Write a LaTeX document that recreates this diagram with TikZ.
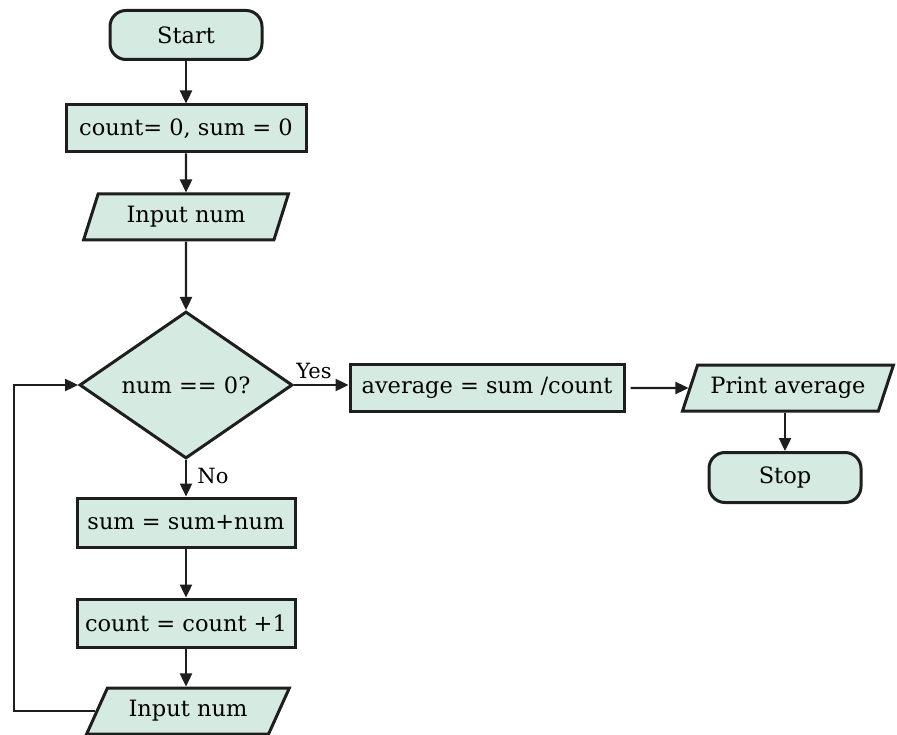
\documentclass[tikz,border=0pt]{standalone}
\usepackage{fontspec}
\setmainfont{DejaVu Serif}
\usetikzlibrary{shapes.geometric, arrows.meta, positioning}
\definecolor{boxfill}{RGB}{213,235,225}
\definecolor{edge}{RGB}{30,30,30}

\begin{document}
\begin{tikzpicture}[x=1pt, y=-1pt,
	every node/.style={font=\fontsize{22.5}{27}\selectfont},
	base/.style={draw=edge, line width=3pt, fill=boxfill, inner sep=0pt},
	term/.style={base, rectangle, rounded corners=16pt, minimum width=152pt, minimum height=49pt},
	proc/.style={base, rectangle, minimum height=47pt},
	io/.style={base, trapezium, trapezium stretches=true, minimum height=46pt},
	dec/.style={base, diamond, minimum width=213pt, minimum height=147pt},
	lbl/.style={font=\fontsize{21}{25}\selectfont},
	flow/.style={draw=edge, line width=2.4pt, -{Triangle[length=13pt, width=12pt]}}]

			\useasboundingbox (0,0) rectangle (897,735);

			\node [term] (start) at (186,35) {Start};
			\node [proc, minimum width=240pt] (init) at (186,128.5) {count= 0, sum = 0};
			\node [io, trapezium left angle=65, trapezium right angle=115, minimum width=205pt] (in1) at (186,217) {Input num};
			\node [dec] (test) at (186,385) {num == 0?};
			\node [proc, minimum width=274pt] (avg) at (487,388) {average = sum /count};
			\node [io, trapezium left angle=59, trapezium right angle=121, minimum width=211pt] (print) at (788,388) {Print average};
			\node [term, minimum height=50pt] (stop) at (785,477.5) {Stop};
			\node [proc, minimum width=218pt, minimum height=49pt] (sum) at (186,522.5) {sum = sum+num};
			\node [proc, minimum width=218pt, minimum height=48pt] (cnt) at (186,623) {count = count +1};
			\node [io, trapezium left angle=54, trapezium right angle=126, minimum width=203pt] (in2) at (188,711) {Input num};

			\node [lbl] (yes) at (314,371) {Yes};
			\node [lbl] (no) at (213,476) {No};

			\foreach \a/\b in {start/init, init/in1, in1/test, test/sum, sum/cnt}
			\draw [flow] (\a) -- (\b);

			\draw [flow] (cnt) -- (cnt |- in2.north);
			\draw [flow] (test.east) -- (test.east -| avg.west);
			\draw [flow, shorten <=5pt] (avg.east) -- (print);
			\draw [flow] (stop |- print.south) -- (stop);

			\coordinate (back) at (14,0);
			\draw [flow] (in2.west) -- (in2.west -| back) |- (test.west);
			\end{tikzpicture}
\end{document}
